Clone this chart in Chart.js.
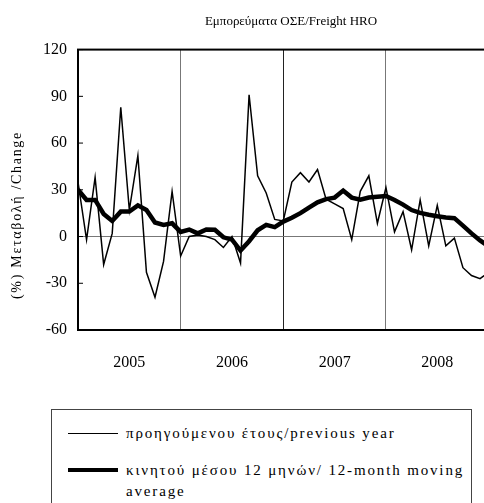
<!DOCTYPE html>
<html>
<head>
<meta charset="utf-8">
<script src="https://cdn.jsdelivr.net/npm/chart.js@4.4.1/dist/chart.umd.min.js"></script>
<style>
  body { margin: 0; width: 484px; height: 503px; overflow: hidden; background: #fff; font-family: "Liberation Serif", serif; }
  /* el gráfico original está recortado a la derecha: el lienzo sobresale de la ventana */
  #wrap { position: absolute; left: 0; top: 0; width: 504px; height: 400px; }
  #leyenda { position: absolute; left: 51px; top: 409px; width: 419px; height: 110px; border: 1px solid #444; }
  .muestra { position: absolute; left: 16px; width: 50px; background: #000; }
  .texto { position: absolute; left: 74px; width: 345px; font-size: 15px; line-height: 21px; letter-spacing: 1.85px; color: #000; }
</style>
</head>
<body>
<div id="wrap"><canvas id="grafico"></canvas></div>
<div id="leyenda"></div>
<script>
// Datos mensuales desde enero 2005 (índice = mes)
const anios = ['2005', '2006', '2007', '2008'];
const variacionAnual = [35, -2, 38, -18, 2, 83, 17, 52, -23, -39, -16, 29,
    -12.5, 0, 1, 0, -2, -7, 0, -17, 91, 39, 28, 11,
    10, 35, 41, 35, 43, 24, 21, 18, -2, 29, 39, 8.5,
    31.5, 3, 16, -8.5, 23.5, -6, 20, -6, -1, -20, -25, -27,
    -23];
const mediaMovil = [30, 23.5, 23.5, 14.5, 10, 16, 16, 20, 17, 9, 7.5, 8.5,
    3, 4.5, 2, 4.5, 4.3, -0.5, -2, -9, -3, 4, 7.5, 6,
    9.6, 12, 15, 18.6, 22, 24, 25, 29.5, 25, 23.6, 25, 25.5,
    26, 23.5, 20.5, 17, 15.2, 14, 13, 12.2, 11.8, 7, 2, -2.5,
    -6.3];
const nombresSeries = ['προηγούμενου έτους/previous year', 'κινητού μέσου 12 μηνών/ 12-month moving average'];
const grosores = [1.5, 4.5];
const textoEjeY = '(%) Μεταβολή /Change';

const fuente = { family: '"Liberation Serif", serif', size: 16 };

// Marco del área de gráfico y marcas internas del eje y
const marco = {
    id: 'marco',
    afterDatasetsDraw(chart) {
        const { ctx, chartArea, scales } = chart;
        ctx.save();
        ctx.strokeStyle = '#000';
        ctx.lineWidth = 2;
        ctx.strokeRect(chartArea.left, chartArea.top, chartArea.right - chartArea.left, chartArea.bottom - chartArea.top);
        ctx.lineWidth = 1;
        scales.y.ticks.forEach(t => {
            const py = scales.y.getPixelForValue(t.value);
            ctx.beginPath();
            ctx.moveTo(chartArea.left, py);
            ctx.lineTo(chartArea.left + 5, py);
            ctx.stroke();
        });
        ctx.restore();
    }
};

// Título del eje y (con espaciado entre letras como en el original)
const tituloY = {
    id: 'tituloY',
    afterDraw(chart) {
        const { ctx, chartArea } = chart;
        ctx.save();
        ctx.translate(17, chartArea.top + (chartArea.bottom - chartArea.top) * 0.59);
        ctx.rotate(-Math.PI / 2);
        ctx.font = '14px "Liberation Serif", serif';
        ctx.letterSpacing = '1.7px';
        ctx.textAlign = 'center';
        ctx.textBaseline = 'middle';
        ctx.fillStyle = '#000';
        ctx.fillText(textoEjeY, 0, 0);
        ctx.restore();
    }
};

const ctx = document.getElementById('grafico').getContext('2d');
new Chart(ctx, {
    type: 'line',
    data: {
        datasets: [{
            label: nombresSeries[0],
            data: variacionAnual.map((v, i) => ({ x: i, y: v })),
            borderColor: '#000',
            borderWidth: grosores[0],
            pointRadius: 0,
            tension: 0,
            order: 1
        }, {
            label: nombresSeries[1],
            data: mediaMovil.map((v, i) => ({ x: i, y: v })),
            borderColor: '#000',
            borderWidth: grosores[1],
            pointRadius: 0,
            tension: 0,
            order: 0
        }]
    },
    options: {
        responsive: true,
        maintainAspectRatio: false,
        animation: false,
        layout: { padding: 0 },
        scales: {
            x: {
                type: 'linear',
                min: 0,
                max: 49.8,
                afterFit: s => { s.height = 70; },
                afterBuildTicks: s => { s.ticks = s.ticks.filter(t => t.value % 6 === 0); },
                ticks: {
                    stepSize: 6,
                    autoSkip: false,
                    maxRotation: 0,
                    color: '#000',
                    font: fuente,
                    padding: 23,
                    callback: v => (v % 12 === 6 ? anios[(v - 6) / 12] : '')
                },
                grid: {
                    drawTicks: false,
                    color: c => {
                        const v = c.tick.value;
                        if (v === 24) return '#222';
                        return (v > 0 && v % 12 === 0) ? '#777' : 'transparent';
                    }
                },
                border: { color: '#000', width: 2 }
            },
            y: {
                min: -60,
                max: 120,
                afterFit: s => { s.width = 78; },
                ticks: { stepSize: 30, color: '#000', font: fuente, padding: 11 },
                grid: {
                    drawTicks: false,
                    color: c => (c.tick.value === 0 ? '#777' : 'transparent')
                },
                border: { color: '#000', width: 2 }
            }
        },
        plugins: {
            legend: { display: false },
            tooltip: { enabled: false },
            title: {
                display: true,
                text: 'Εμπορεύματα ΟΣΕ/Freight HRO',
                fullSize: false,
                color: '#000',
                font: { family: '"Liberation Serif", serif', size: 13, weight: 'normal' },
                padding: { top: 14, bottom: 20 }
            }
        }
    },
    plugins: [marco, tituloY]
});

// Leyenda en recuadro debajo del gráfico
const leyenda = document.getElementById('leyenda');
const posiciones = [23.5, 60];
nombresSeries.forEach((nombre, i) => {
    const m = document.createElement('div');
    m.className = 'muestra';
    m.style.top = (posiciones[i] - grosores[i] / 2) + 'px';
    m.style.height = grosores[i] + 'px';
    leyenda.appendChild(m);
    const t = document.createElement('div');
    t.className = 'texto';
    t.style.top = (posiciones[i] - 10.5) + 'px';
    t.textContent = nombre;
    leyenda.appendChild(t);
});
</script>
</body>
</html>
